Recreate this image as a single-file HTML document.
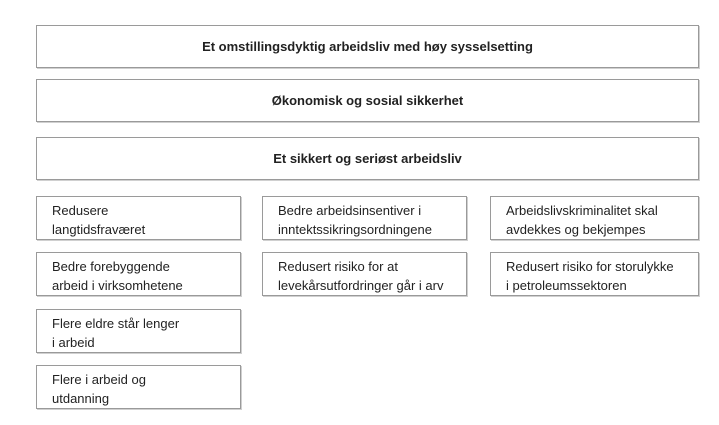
<!DOCTYPE html>
<html><head><meta charset="utf-8"><style>
body{margin:0;width:719px;height:425px;background:#fff;position:relative;font-family:"Liberation Sans",sans-serif;color:#222}
.b{position:absolute;box-sizing:border-box;border:1px solid #9a9a9a;box-shadow:1px 1px 0 #d0d0d0}
.t{left:36px;width:663px;height:43px;font-weight:bold;font-size:13px;text-align:center;line-height:41px}
.s{height:44px;font-size:13px;line-height:19px;padding:4px 0 0 15px}
.c1{left:36px;width:205px}.c2{left:262px;width:205px}.c3{left:490px;width:209px}
</style></head><body>
<div class="b t" style="top:25px">Et omstillingsdyktig arbeidsliv med høy sysselsetting</div>
<div class="b t" style="top:79px">Økonomisk og sosial sikkerhet</div>
<div class="b t" style="top:137px">Et sikkert og seriøst arbeidsliv</div>
<div class="b s c1" style="top:196px">Redusere<br>langtidsfraværet</div>
<div class="b s c2" style="top:196px">Bedre arbeidsinsentiver i<br>inntektssikringsordningene</div>
<div class="b s c3" style="top:196px">Arbeidslivskriminalitet skal<br>avdekkes og bekjempes</div>
<div class="b s c1" style="top:252px">Bedre forebyggende<br>arbeid i virksomhetene</div>
<div class="b s c2" style="top:252px">Redusert risiko for at<br>levekårsutfordringer går i arv</div>
<div class="b s c3" style="top:252px">Redusert risiko for storulykke<br>i petroleumssektoren</div>
<div class="b s c1" style="top:309px">Flere eldre står lenger<br>i arbeid</div>
<div class="b s c1" style="top:365px">Flere i arbeid og<br>utdanning</div>
</body></html>
